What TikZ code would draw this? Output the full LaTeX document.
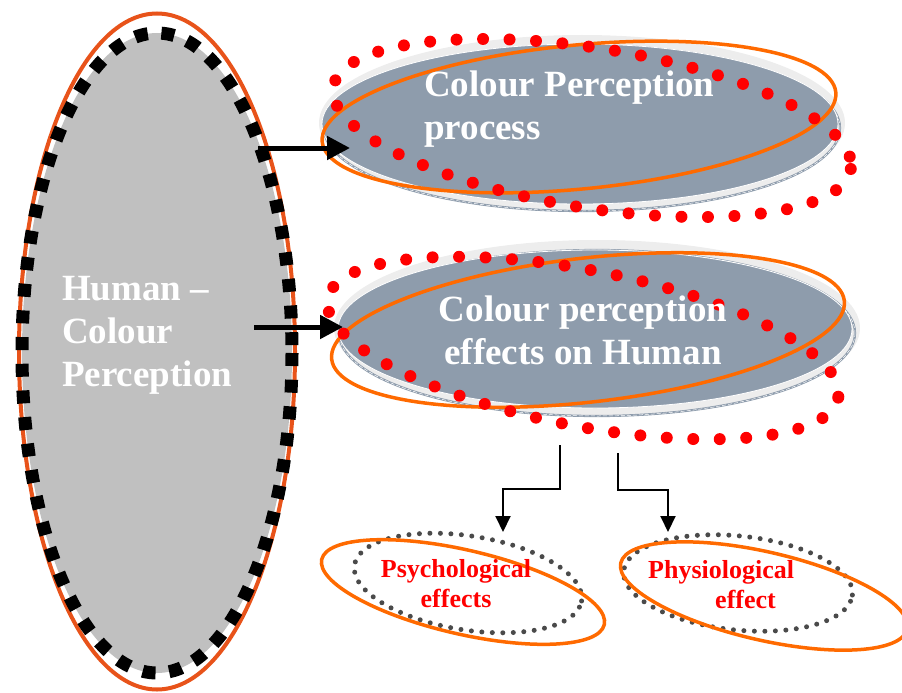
\documentclass[tikz,border=0pt]{standalone}
\usepackage{fontspec}
\setmainfont{Liberation Serif}
\usetikzlibrary{shapes.geometric,arrows.meta,calc}
\definecolor{slate}{HTML}{8E9CAC}
\definecolor{silver}{HTML}{C0C0C0}
\definecolor{ringorange}{HTML}{FF6A00}
\definecolor{rimorange}{HTML}{E8531A}
\definecolor{dotred}{HTML}{FF0000}
\definecolor{dotgray}{HTML}{4A4A4A}
\definecolor{halo}{HTML}{EDEDED}
\begin{document}
\begin{tikzpicture}[x=1pt,y=-1pt,
  bigtext/.style={font=\fontsize{37pt}{43pt}\selectfont\bfseries, text=white, inner sep=0pt},
  smalltext/.style={font=\fontsize{26pt}{30pt}\selectfont\bfseries, text=dotred, inner sep=0pt},
  orangering/.style={draw=ringorange, line width=3.5pt},
  reddots/.style={draw=dotred, line width=12pt, line cap=round, dash pattern=on 0pt off 26.5pt},
  graydots/.style={draw=dotgray, line width=5pt, line cap=round, dash pattern=on 0pt off 10.5pt},
  squaredash/.style={draw=black, line width=13pt, dash pattern=on 13pt off 13.7pt},
  slatebox/.style={ellipse, fill=slate, draw=white, line width=0.8pt, inner sep=0pt},
  dotoval/.style={ellipse, graydots, minimum width=230pt, minimum height=94pt, inner sep=0pt},
  rimline/.style={draw=slate, line width=2.2pt},
  rimgap/.style={draw=white, line width=0.5pt, dash pattern=on 4pt off 2pt},
  thickarrow/.style={line width=5pt, -{Triangle[length=23pt,width=23pt]}},
  thinarrow/.style={line width=2pt, -{Triangle[length=16pt,width=15pt]}},
]
\useasboundingbox (0,0) rectangle (902,693);
\clip (0,0) rectangle (902,693);

% tall oval on the left
\draw[rimorange, line width=4pt] (157,351.5) ellipse [x radius=138, y radius=338];
\node[ellipse, fill=silver, minimum width=270pt, minimum height=640pt, inner sep=0pt] (human) at (157,353) {};
\draw[squaredash] (human.center) ellipse [x radius=135, y radius=320];
\node[bigtext, align=left, anchor=north west] (humantext) at (62,276) {Human –\\Colour\\Perception};

% upper oval: perception process
\fill[halo] (582,123) ellipse [x radius=263, y radius=88];
\draw[rimline] (582,128) ellipse [x radius=258, y radius=83];
\draw[rimgap] (582,128) ellipse [x radius=258, y radius=83];
\node[slatebox, minimum width=516pt, minimum height=160pt] (process) at (580,124) {};
\draw[orangering, rotate around={5.5:(579,117)}] (579,117) ellipse [x radius=258, y radius=72];
\draw[reddots, rotate around={-9:(592,128)}] (592,128) ellipse [x radius=262, y radius=80];
\node[bigtext, align=left, anchor=north west] (processtext) at (424,71) {Colour Perception\\process};

% middle oval: effects on humans
\fill[halo] (597,328) ellipse [x radius=263, y radius=88];
\draw[rimline] (597,333) ellipse [x radius=258, y radius=83];
\draw[rimgap] (597,333) ellipse [x radius=258, y radius=83];
\node[slatebox, minimum width=514pt, minimum height=158pt] (effects) at (595,329) {};
\draw[orangering, rotate around={6.5:(588,330)}] (588,330) ellipse [x radius=258, y radius=72];
\draw[reddots, rotate around={-11:(583,348)}] (583,348) ellipse [x radius=260, y radius=78];
\node[bigtext, align=center, anchor=north] (effectstext) at (583,296) {Colour perception\\effects on Human};

% arrows into the two grey ovals
\coordinate (a1) at (258,148);
\coordinate (b1) at (350,148);
\coordinate (a2) at (254,327);
\coordinate (b2) at (343,327);
\draw[thickarrow] (a1) -- (b1);
\draw[thickarrow] (a2) -- (b2);

% lower small ovals
\node[dotoval, rotate=-9] (psych) at (468,583) {};
\draw[orangering, rotate around={-13:(463,592)}] (463,592) ellipse [x radius=145, y radius=42];
\node[smalltext, align=center, anchor=north] (psychtext) at (456,559) {Psychological\\effects};

\node[dotoval, rotate=-6] (physio) at (738,583) {};
\draw[orangering, rotate around={-13:(764,596)}] (764,596) ellipse [x radius=147, y radius=44];
\node[smalltext, align=left, anchor=north west] (physiotext) at (648,560) {Physiological\\\hspace*{67pt}effect};

% elbow connectors
\coordinate (s1) at (560,445);
\coordinate (e1) at (503,532);
\coordinate (s2) at (618,453);
\coordinate (e2) at (668,532);
\draw[thinarrow] (s1) |- ($(s1)!0.5!(e1)$) -| (e1);
\draw[thinarrow] (s2) |- ($(s2)!0.47!(e2)$) -| (e2);
\end{tikzpicture}
\end{document}
